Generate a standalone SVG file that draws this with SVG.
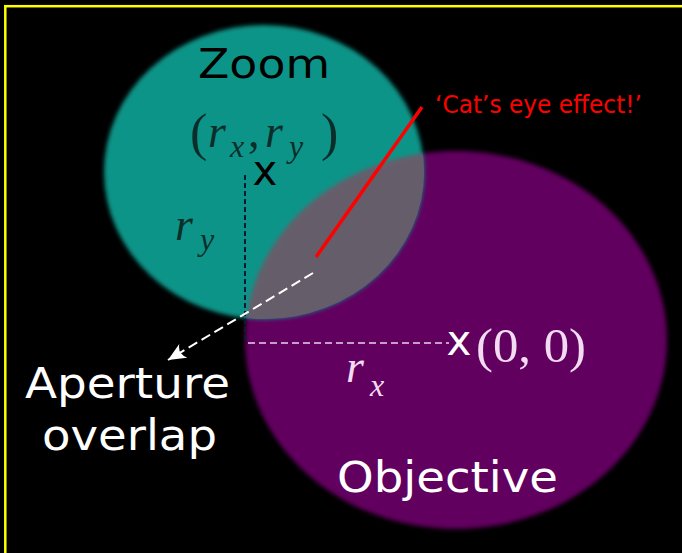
<svg xmlns="http://www.w3.org/2000/svg" width="682" height="553" viewBox="0 0 682 553">
  <defs>
    <filter id="soft" x="-10%" y="-10%" width="120%" height="120%">
      <feGaussianBlur stdDeviation="2"/>
    </filter>
    <clipPath id="zoomClip">
      <ellipse cx="264" cy="172" rx="160" ry="147"/>
    </clipPath>
    <marker id="arrow" markerWidth="20" markerHeight="16" refX="18" refY="8" orient="auto" markerUnits="userSpaceOnUse">
      <path d="M0,0 Q7,8 0,16 L18,8 Z" fill="#ffffff"/>
    </marker>
    <style>
      .sans { font-family: "DejaVu Sans", "Verdana", sans-serif; }
      .math { font-family: "Liberation Serif", "Times New Roman", serif; }
      .it { font-style: italic; }
      .dark { fill: #0c2e2b; }
      .light { fill: #f2dcf2; }
    </style>
  </defs>

  <rect x="0" y="0" width="682" height="553" fill="#000000"/>
  <rect x="5.3" y="6.2" width="720" height="600" fill="none" stroke="#ffff00" stroke-width="2.5"/>

  <g id="objective">
    <ellipse cx="456" cy="340" rx="211" ry="189" fill="#62005f" filter="url(#soft)"/>
  </g>
  <g id="zoom">
    <ellipse cx="264" cy="172" rx="160" ry="147" fill="#0f9488" filter="url(#soft)"/>
  </g>
  <g id="overlap">
    <g clip-path="url(#zoomClip)">
      <ellipse cx="456" cy="340" rx="211" ry="189" fill="#665d6a" filter="url(#soft)"/>
    </g>
  </g>

  <g id="connectors">
    <line x1="245" y1="175" x2="245" y2="343" stroke="#0b1a33" stroke-width="2" stroke-dasharray="5 3"/>
    <line x1="248" y1="343" x2="449" y2="343" stroke="#f0d0f0" stroke-width="1.5" stroke-dasharray="7 4"/>
    <line x1="316" y1="257" x2="422" y2="107" stroke="#ff0000" stroke-width="3.5"/>
    <line x1="313" y1="273" x2="168" y2="360" stroke="#ffffff" stroke-width="2" stroke-dasharray="10 5" marker-end="url(#arrow)"/>
  </g>

  <g id="labels">
    <text class="sans" x="198" y="78" font-size="41" textLength="132" lengthAdjust="spacingAndGlyphs" fill="#000000">Zoom</text>

    <text class="math dark" x="190" y="150" font-size="46"><tspan font-size="52">(</tspan><tspan class="it" x="208" y="147">r</tspan><tspan class="it" x="230" y="157" font-size="32">x</tspan><tspan x="248" y="147">,</tspan><tspan class="it" x="265" y="147">r</tspan><tspan class="it" x="289" y="157" font-size="32">y</tspan><tspan x="321" y="150" font-size="52">)</tspan></text>
    <text class="sans" x="265" y="185" font-size="42" text-anchor="middle" fill="#000000">x</text>

    <text class="math dark" x="175" y="240" font-size="46"><tspan class="it">r</tspan><tspan class="it" x="200" y="250" font-size="32">y</tspan></text>

    <text class="sans" x="435" y="113" font-size="24" textLength="207" lengthAdjust="spacingAndGlyphs" fill="#ff0000">‘Cat’s eye effect!’</text>

    <text class="sans" x="459" y="355" font-size="42" text-anchor="middle" fill="#ffffff">x</text>
    <text class="math light" x="476" y="362" font-size="48" textLength="110" lengthAdjust="spacingAndGlyphs">(0, 0)</text>

    <text class="math light" x="346" y="382" font-size="46"><tspan class="it">r</tspan><tspan class="it" x="370" y="396" font-size="32">x</tspan></text>

    <text class="sans" x="25" y="398" font-size="42" textLength="205" lengthAdjust="spacingAndGlyphs" fill="#ffffff">Aperture</text>
    <text class="sans" x="42" y="450" font-size="42" textLength="175" lengthAdjust="spacingAndGlyphs" fill="#ffffff">overlap</text>
    <text class="sans" x="337" y="492" font-size="42" textLength="221" lengthAdjust="spacingAndGlyphs" fill="#ffffff">Objective</text>
  </g>
</svg>
